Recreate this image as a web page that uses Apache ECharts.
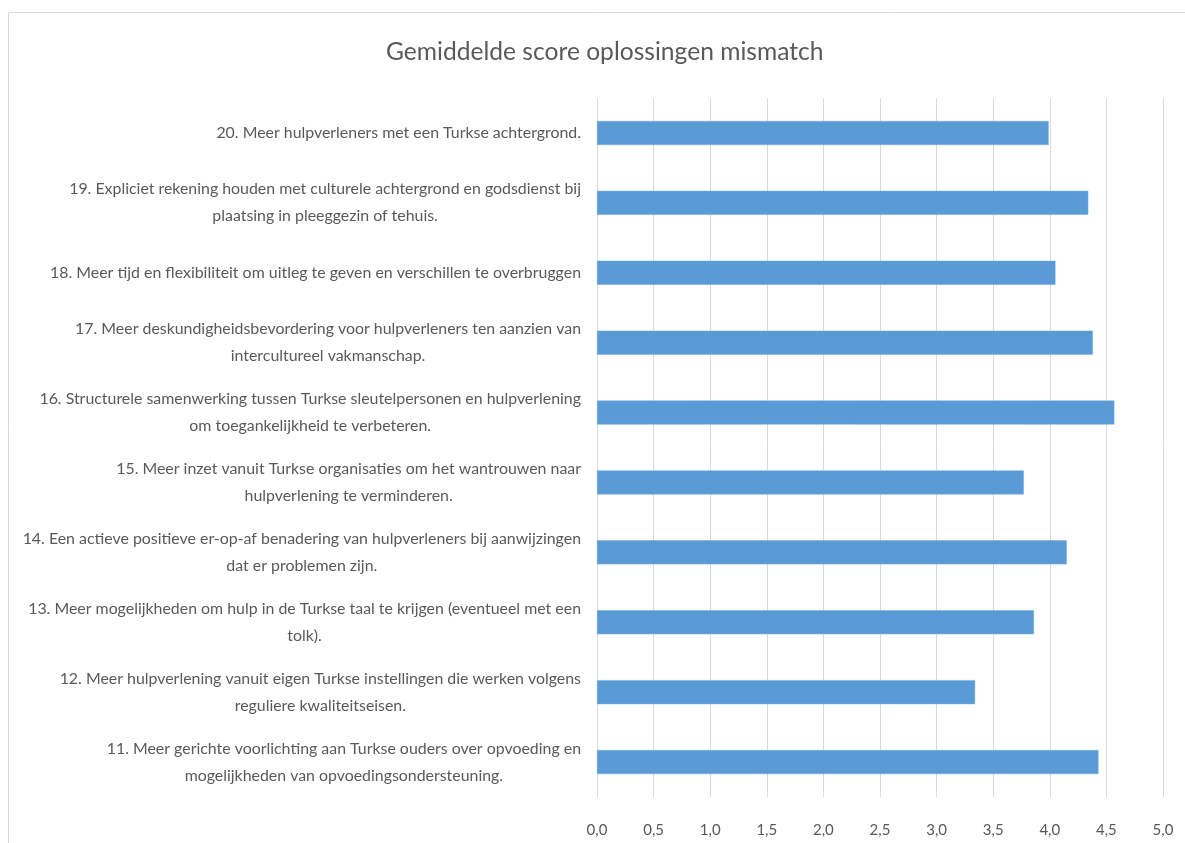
<!DOCTYPE html>
<html>
<head>
<meta charset="utf-8">
<script src="https://cdn.jsdelivr.net/npm/echarts@6/dist/echarts.min.js"></script>
<style>
html, body { margin: 0; padding: 0; background: #ffffff; }
#chart { width: 1185px; height: 843px; }
</style>
</head>
<body>
<div id="chart"></div>
<script>
const titleText = 'Gemiddelde score oplossingen mismatch';

const categories = [
  '11. Meer gerichte voorlichting aan Turkse ouders over opvoeding en\nmogelijkheden van opvoedingsondersteuning.',
  '12. Meer hulpverlening vanuit eigen Turkse instellingen die werken volgens\nreguliere kwaliteitseisen.',
  '13. Meer mogelijkheden om hulp in de Turkse taal te krijgen (eventueel met een\ntolk).',
  '14. Een actieve positieve er-op-af benadering van hulpverleners bij aanwijzingen\ndat er problemen zijn.',
  '15. Meer inzet vanuit Turkse organisaties om het wantrouwen naar\nhulpverlening te verminderen.',
  '16. Structurele samenwerking tussen Turkse sleutelpersonen en hulpverlening\nom toegankelijkheid te verbeteren.',
  '17. Meer deskundigheidsbevordering voor hulpverleners ten aanzien van\nintercultureel vakmanschap.',
  '18. Meer tijd en flexibiliteit om uitleg te geven en verschillen te overbruggen',
  '19. Expliciet rekening houden met culturele achtergrond en godsdienst bij\nplaatsing in pleeggezin of tehuis.',
  '20. Meer hulpverleners met een Turkse achtergrond.'
];

const scores = [4.43, 3.34, 3.86, 4.15, 3.77, 4.57, 4.38, 4.05, 4.34, 3.99];

const axisMin = 0;
const axisMax = 5;
const axisStep = 0.5;

const FONT = 'Lato';
const TEXT = '#595959';

const chart = echarts.init(document.getElementById('chart'), null, { renderer: 'canvas' });

chart.setOption({
  backgroundColor: '#ffffff',
  animation: false,
  title: {
    text: titleText,
    left: 381,
    top: 35,
    textStyle: { fontFamily: FONT, fontSize: 24.6, fontWeight: 'normal', color: TEXT }
  },
  graphic: [{
    type: 'rect',
    silent: true,
    shape: { x: 8.5, y: 12.5, width: 1300, height: 1000 },
    style: { fill: 'none', stroke: '#D9D9D9', lineWidth: 1 }
  }],
  grid: { left: 597, right: 22, top: 98, bottom: 46, containLabel: false },
  xAxis: {
    type: 'value',
    min: axisMin,
    max: axisMax,
    interval: axisStep,
    axisLine: { show: false },
    axisTick: { show: false },
    splitLine: { show: true, lineStyle: { color: '#D9D9D9', width: 1 } },
    axisLabel: {
      margin: 26,
      fontFamily: FONT,
      fontSize: 15,
      color: TEXT,
      formatter: v => v.toFixed(1).replace('.', ',')
    }
  },
  yAxis: {
    type: 'category',
    data: categories,
    axisLine: { show: false },
    axisTick: { show: false },
    splitLine: { show: false },
    axisLabel: {
      margin: 16,
      interval: 0,
      formatter: v => v.split('\n').map(l => '{c|' + l + '}').join('\n'),
      rich: {
        c: { align: 'center', fontFamily: FONT, fontSize: 15.9, color: TEXT, lineHeight: 27 }
      }
    }
  },
  series: [{
    type: 'bar',
    data: scores,
    barWidth: 24,
    itemStyle: { color: '#5B9BD5', borderColor: '#6FA8DC', borderWidth: 0.5 }
  }]
});
</script>
</body>
</html>
